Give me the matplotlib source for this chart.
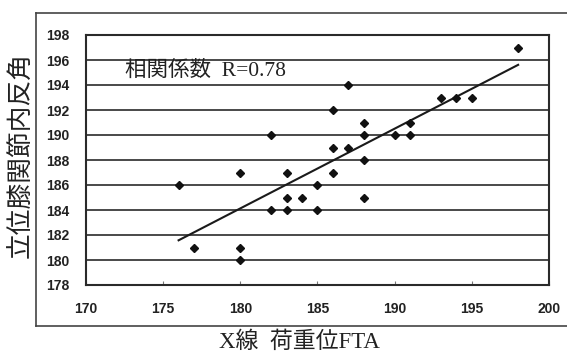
import matplotlib
matplotlib.use("Agg")
import matplotlib.pyplot as plt
from matplotlib.lines import Line2D
import numpy as np

# X線 荷重位FTA vs 立位膝関節内反角
fta = [176, 177, 180, 180, 180, 182, 182, 183, 183, 183, 184, 185, 185, 186, 186,
       186, 187, 187, 188, 188, 188, 188, 190, 191, 191, 193, 194, 195, 198]
varus = [186, 181, 187, 181, 180, 190, 184, 187, 185, 184, 185, 186, 184, 192, 189,
         187, 194, 189, 191, 190, 188, 185, 190, 191, 190, 193, 193, 193, 197]
r_value = 0.78

x_ticks = [170, 175, 180, 185, 190, 195, 200]
y_ticks = list(range(178, 199, 2))

cjk = ['Noto Sans CJK JP', 'DejaVu Sans']
serif_cjk = ['Liberation Serif', 'Noto Sans CJK JP']

fig = plt.figure(figsize=(5.67, 3.53), dpi=100)
fig.patch.set_facecolor('white')

ax = fig.add_axes([86 / 567, 1 - 285 / 353, 463 / 567, 250 / 353])
ax.set_xlim(170, 200)
ax.set_ylim(178, 198)
ax.set_xticks(x_ticks)
ax.set_yticks(y_ticks)

for y in y_ticks[1:-1]:
    ax.axhline(y, color='#3a3a3a', lw=1.3, zorder=1)

for s in ax.spines.values():
    s.set_color('#2a2a2a')
    s.set_linewidth(1.5)

ax.tick_params(axis='x', direction='in', length=3, width=0.8, color='#777777',
               pad=12, labelsize=10, labelcolor='#222222')
ax.tick_params(axis='y', length=0, pad=12, labelsize=10, labelcolor='#222222')
for lab in ax.get_xticklabels() + ax.get_yticklabels():
    lab.set_fontfamily('Liberation Sans')
    lab.set_fontweight('bold')

ax.plot(fta, varus, linestyle='none', marker='D', markersize=4.2,
        color='#111111', zorder=3)

# linear trendline over the data range
k, b = np.polyfit(fta, varus, 1)
xs = np.array([min(fta), max(fta)])
ax.plot(xs, k * xs + b, color='#1a1a1a', lw=1.5, zorder=2)

ax.text(172.5, 195.1, '相関係数  R=%.2f' % r_value, family=serif_cjk,
        fontsize=15.5, color='#222222', va='center', ha='left', zorder=4)

fig.text(22 / 567, 1 - 155 / 353, '立位膝関節内反角', family=cjk, fontsize=18.5,
         rotation=90, ha='center', va='center', color='#222222')
fig.text(299 / 567, 1 - 342 / 353, 'X線  荷重位FTA', family=serif_cjk, fontsize=16.5,
         ha='center', va='center', color='#222222')

# outer chart frame
frame_kw = dict(color='#444444', lw=1.2, transform=fig.transFigure)
fig.add_artist(Line2D([36 / 567, 1.0], [1 - 13 / 353, 1 - 13 / 353], **frame_kw))
fig.add_artist(Line2D([36 / 567, 36 / 567], [1 - 13 / 353, 1 - 326 / 353], **frame_kw))
fig.add_artist(Line2D([36 / 567, 1.0], [1 - 326 / 353, 1 - 326 / 353], **frame_kw))

fig.savefig('out.png', dpi=100, facecolor='white')
